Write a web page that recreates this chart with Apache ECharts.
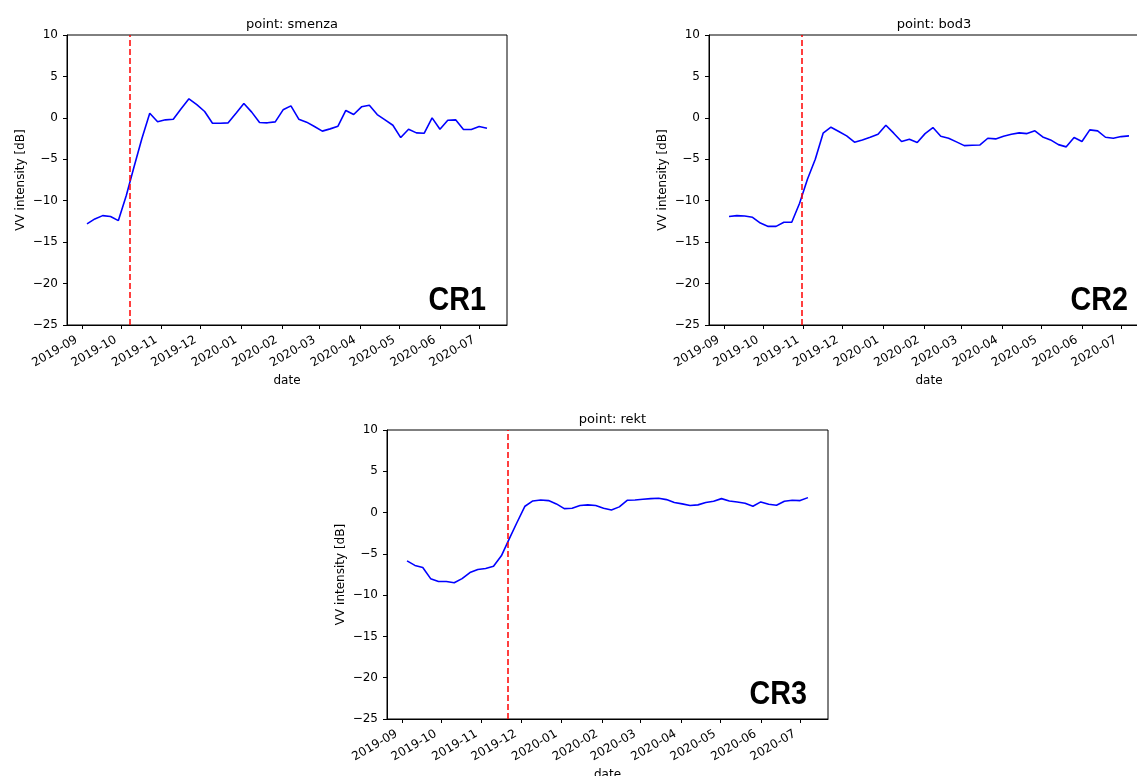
<!DOCTYPE html>
<html>
<head>
<meta charset="utf-8">
<script src="https://cdn.jsdelivr.net/npm/echarts@6/dist/echarts.min.js"></script>
<style>
html,body{margin:0;padding:0;background:#fff;}
#c{width:1137px;height:776px;}
</style>
</head>
<body>
<div id="c"></div>
<script>
const dates = [
 '2019-09-05','2019-09-11','2019-09-17','2019-09-23','2019-09-29',
 '2019-10-05','2019-10-11','2019-10-17','2019-10-23','2019-10-29',
 '2019-11-04','2019-11-10','2019-11-16','2019-11-22','2019-11-28',
 '2019-12-04','2019-12-10','2019-12-16','2019-12-22','2019-12-28',
 '2020-01-03','2020-01-09','2020-01-15','2020-01-21','2020-01-27',
 '2020-02-02','2020-02-08','2020-02-14','2020-02-20','2020-02-26',
 '2020-03-03','2020-03-09','2020-03-15','2020-03-21','2020-03-27',
 '2020-04-02','2020-04-08','2020-04-14','2020-04-20','2020-04-26',
 '2020-05-02','2020-05-08','2020-05-14','2020-05-20','2020-05-26',
 '2020-06-01','2020-06-07','2020-06-13','2020-06-19','2020-06-25',
 '2020-07-01','2020-07-07'
];
const smenza = [-12.8,-12.2,-11.8,-11.9,-12.4,-9.4,-5.9,-2.5,0.56,-0.48,
 -0.24,-0.16,1.1,2.3,1.6,0.77,-0.65,-0.65,-0.6,0.56,
 1.73,0.69,-0.56,-0.6,-0.48,0.97,1.45,-0.16,-0.52,-1.05,
 -1.6,-1.33,-1.0,0.89,0.4,1.33,1.53,0.4,-0.24,-0.89,
 -2.38,-1.37,-1.81,-1.85,0.0,-1.37,-0.28,-0.24,-1.41,-1.41,
 -1.05,-1.25];
const bod3 = [-11.9,-11.8,-11.85,-12.0,-12.7,-13.1,-13.1,-12.6,-12.6,-10.3,
 -7.4,-5.0,-1.85,-1.13,-1.65,-2.18,-2.94,-2.66,-2.34,-1.98,
 -0.89,-1.85,-2.86,-2.58,-2.98,-1.9,-1.17,-2.22,-2.46,-2.9,
 -3.35,-3.3,-3.27,-2.46,-2.54,-2.22,-1.98,-1.81,-1.9,-1.57,
 -2.3,-2.66,-3.23,-3.5,-2.38,-2.86,-1.45,-1.57,-2.34,-2.46,
 -2.26,-2.18];
const rekt = [-5.85,-6.4,-6.65,-8.0,-8.35,-8.35,-8.5,-8.0,-7.26,-6.9,
 -6.77,-6.5,-5.24,-3.19,-1.17,0.77,1.41,1.53,1.45,1.05,
 0.48,0.52,0.85,0.93,0.85,0.52,0.32,0.69,1.49,1.53,
 1.61,1.69,1.73,1.57,1.21,1.05,0.85,0.93,1.21,1.37,
 1.69,1.41,1.29,1.13,0.77,1.29,1.0,0.89,1.37,1.49,
 1.45,1.81];
const pointNames = ['smenza','bod3','rekt'];
const panelLabels = ['CR1','CR2','CR3'];
const eventDates = ['2019-10-08','2019-10-31','2019-11-21'];
const tickLabels = ['2019-09','2019-10','2019-11','2019-12','2020-01','2020-02','2020-03','2020-04','2020-05','2020-06','2020-07'];

const ts = s => Date.parse(s + (s.length === 7 ? '-01' : '') + 'T00:00:00Z');
const tickTs = tickLabels.map(ts);
const dateTs = dates.map(ts);
const span = dateTs[dateTs.length-1] - dateTs[0];
const xMin = dateTs[0] - 0.05*span, xMax = dateTs[dateTs.length-1] + 0.05*span;
const series = [smenza, bod3, rekt];

const grids = [
  {left:67, top:35, width:440, height:290},
  {left:709, top:35, width:440, height:290},
  {left:387, top:430, width:441, height:289}
];
const font = 'DejaVu Sans';
const fmtY = v => v < 0 ? '\u2212' + Math.abs(v) : String(v);
const fmtX = v => { const i = tickTs.indexOf(v); return i >= 0 ? tickLabels[i] : ''; };

const option = {
  animation:false,
  backgroundColor:'#fff',
  title: grids.map((g,i)=>({
    text:'point: ' + pointNames[i],
    left: g.left + g.width/2, top: g.top - 22, textAlign:'center',
    textStyle:{fontFamily:font, fontSize:13, fontWeight:'normal', color:'#000'}
  })),
  grid: grids.map(g=>Object.assign({show:true, borderColor:'#000', borderWidth:1,
    backgroundColor:'transparent', outerBoundsMode:'none', containLabel:false}, g)),
  xAxis: grids.map((g,i)=>({
    type:'value', gridIndex:i, min:xMin, max:xMax,
    name:'date', nameLocation:'middle', nameGap:50,
    nameTextStyle:{fontFamily:font, fontSize:12, color:'#000'},
    splitLine:{show:false},
    axisLine:{show:true, onZero:false, lineStyle:{color:'#000', width:1}},
    axisTick:{show:true, inside:false, length:4, customValues:tickTs, lineStyle:{color:'#000'}},
    axisLabel:{show:true, rotate:30, margin:11, padding:[0,6,0,0], customValues:tickTs, formatter:fmtX,
      hideOverlap:false, fontFamily:font, fontSize:12, color:'#000'}
  })),
  yAxis: grids.map((g,i)=>({
    type:'value', gridIndex:i, min:-25, max:10, interval:5,
    name:'VV intensity [dB]', nameLocation:'middle', nameGap:40,
    nameTextStyle:{fontFamily:font, fontSize:12, color:'#000'},
    splitLine:{show:false},
    axisLine:{show:true, onZero:false, lineStyle:{color:'#000', width:1}},
    axisTick:{show:true, inside:false, length:4, lineStyle:{color:'#000'}},
    axisLabel:{show:true, margin:9, formatter:fmtY, fontFamily:font, fontSize:12, color:'#000'}
  })),
  series: series.map((s,i)=>({
    type:'line', xAxisIndex:i, yAxisIndex:i, showSymbol:false, symbol:'none',
    data: s.map((v,j)=>[dateTs[j], v]),
    lineStyle:{color:'#0000ff', width:1.6},
    markLine:{silent:true, symbol:['none','none'], label:{show:false},
      lineStyle:{color:'#ff0000', type:[6,3], width:1.5},
      data:[{xAxis: ts(eventDates[i])}]}
  })),
  graphic: grids.map((g,i)=>({
    type:'text', x: g.left + g.width - 21, y: g.top + g.height - 8, scaleX:0.87,
    style:{text:panelLabels[i], align:'right', verticalAlign:'bottom',
      font:'bold 33px "Liberation Sans", Arial, sans-serif', fill:'#000'}
  }))
};
const chart = echarts.init(document.getElementById('c'), null, {renderer:'canvas'});
chart.setOption(option);
</script>
</body>
</html>
